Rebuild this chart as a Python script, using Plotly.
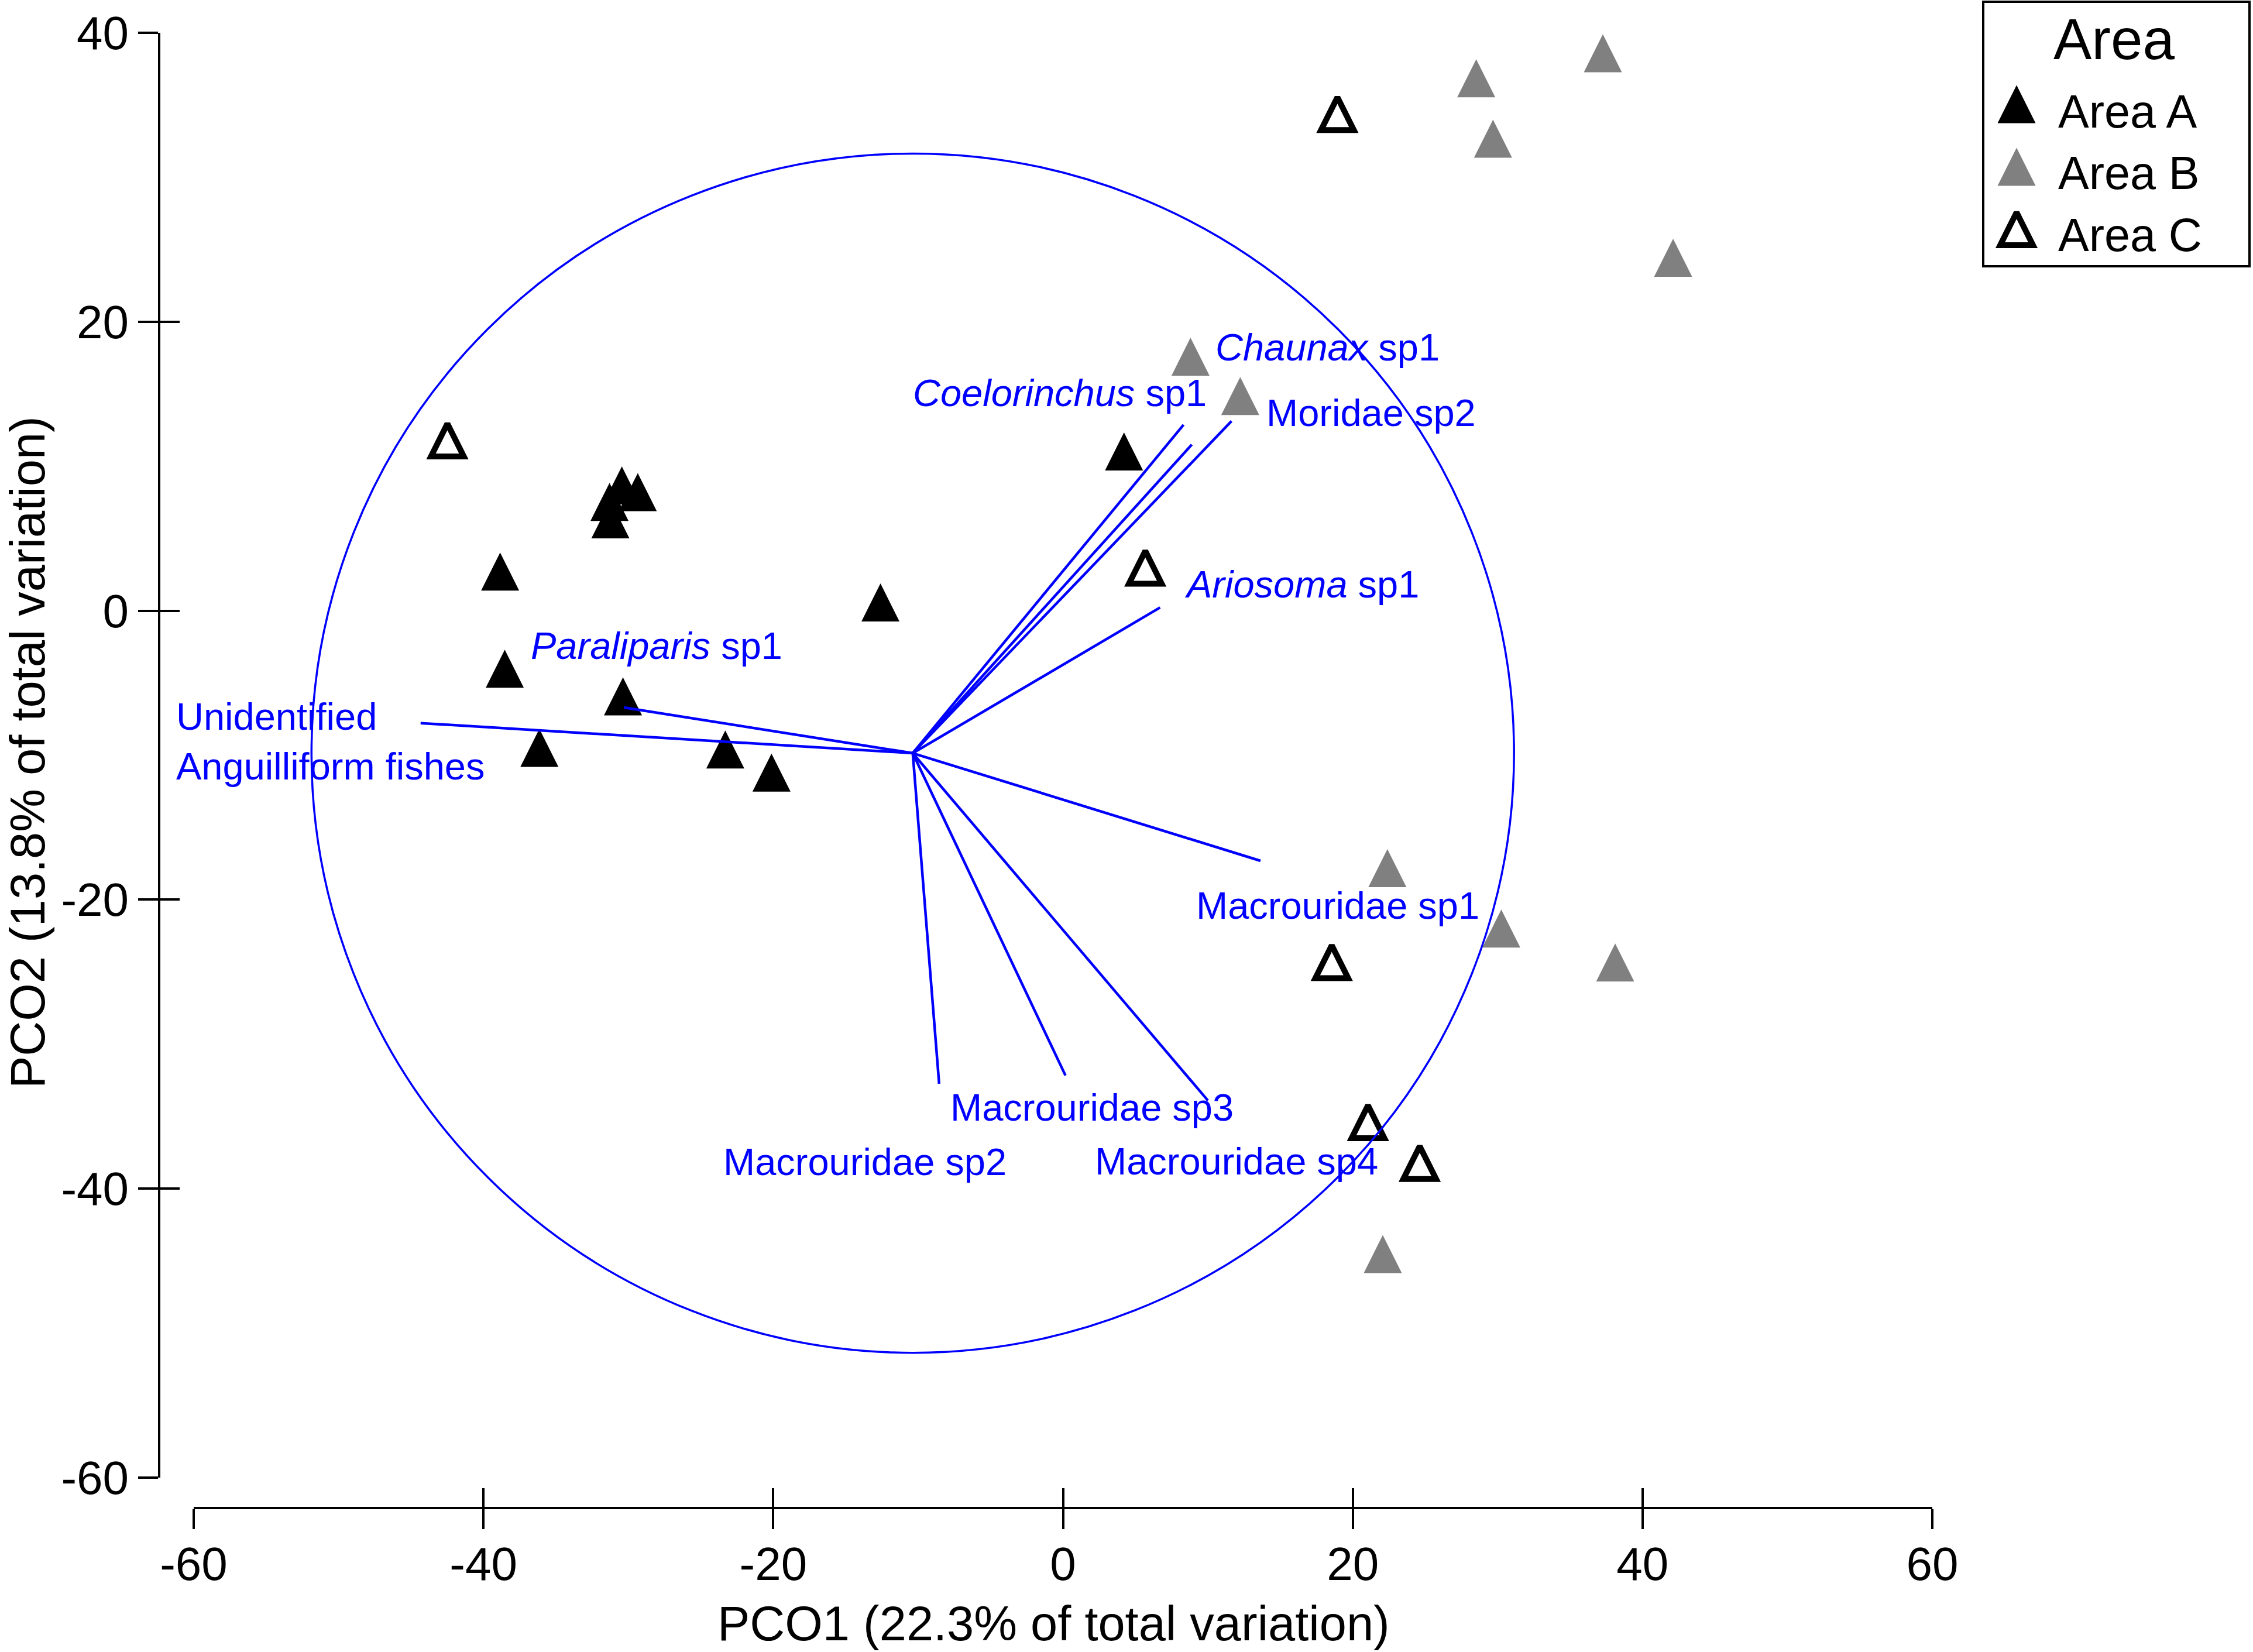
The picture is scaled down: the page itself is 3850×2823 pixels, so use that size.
import plotly.graph_objects as go

# ---------------- data ----------------
area_a_x = [4.21, -30.45, -29.35, -31.30, -31.24, -38.85, -12.60, -38.53, -30.37, -36.14, -23.31, -20.12]
area_a_y = [11.02, 8.67, 8.21, 7.53, 6.32, 2.71, 0.57, -4.02, -5.93, -9.49, -9.61, -11.21]

area_b_x = [28.52, 37.26, 29.68, 42.11, 8.80, 12.23, 22.39, 30.25, 38.11, 22.07]
area_b_y = [36.85, 38.58, 32.67, 24.43, 17.58, 14.86, -17.82, -22.00, -24.35, -44.53]

area_c_x = [18.94, -42.49, 5.68, 18.55, 21.05, 24.62]
area_c_y = [34.40, 11.81, 3.00, -24.30, -35.37, -38.20]

vec_labels = [
    "Unidentified<br>Anguilliform fishes",
    "<i>Paraliparis</i> sp1",
    "<i>Coelorinchus</i> sp1",
    "<i>Chaunax</i> sp1",
    "Moridae sp2",
    "<i>Ariosoma</i> sp1",
    "Macrouridae sp1",
    "Macrouridae sp3",
    "Macrouridae sp2",
    "Macrouridae sp4",
]
vec_x = [-44.34, -30.30, 8.32, 8.89, 11.63, 6.70, 13.63, 0.17, -8.55, 10.00]
vec_y = [-7.78, -6.70, 12.87, 11.50, 13.12, 0.22, -17.31, -32.17, -32.74, -33.90]

origin_x = -10.37
origin_y = -9.86
circle_radius = 41.5

x_ticks = [-60, -40, -20, 0, 20, 40, 60]
y_ticks = [-60, -40, -20, 0, 20, 40]
x_ticktext = [str(v) for v in x_ticks]
y_ticktext = [str(v) for v in y_ticks]

legend_names = ["Area A", "Area B", "Area C"]

# ---------------- styles ----------------
W, H = 3850, 2823
FONT = "Liberation Sans, Arial, sans-serif"
BLUE = "rgb(0,0,255)"
GRAY = "rgb(128,128,128)"

# label placement relative to the vector tips (px): anchor, xshift, yshift
label_style = [
    ("left", -420, -31),
    ("left", -161, 106),
    ("right", 42, 54),
    ("left", 38, 166),
    ("left", 58, 14),
    ("left", 40, 40),
    ("left", -112, -77),
    ("left", -199, -55),
    ("left", -371, -134),
    ("left", -195, -104),
]

FILLED_SIZE = 65
OPEN_SIZE = 56
OPEN_LW = 10

def tri(size, open_=False, color="black"):
    m = dict(symbol="arrow-down-open" if open_ else "arrow-down", angle=180,
             size=size, standoff=size / 2, color=color,
             line=dict(width=OPEN_LW if open_ else 0, color=color))
    return m

fig = go.Figure()

fig.add_trace(go.Scatter(x=area_a_x, y=area_a_y, mode="markers", name="Area A",
                         marker=tri(FILLED_SIZE, False, "black"), cliponaxis=False,
                         showlegend=False))
fig.add_trace(go.Scatter(x=area_b_x, y=area_b_y, mode="markers", name="Area B",
                         marker=tri(FILLED_SIZE, False, GRAY), cliponaxis=False,
                         showlegend=False))
fig.add_trace(go.Scatter(x=area_c_x, y=area_c_y, mode="markers", name="Area C",
                         marker=tri(OPEN_SIZE, True, "black"), cliponaxis=False,
                         showlegend=False))

# vectors
vx, vy = [], []
for ex, ey in zip(vec_x, vec_y):
    vx += [origin_x, ex, None]
    vy += [origin_y, ey, None]
fig.add_trace(go.Scatter(x=vx, y=vy, mode="lines", line=dict(color=BLUE, width=4.5),
                         showlegend=False, hoverinfo="skip", cliponaxis=False))

# dummy trace for the inner-tick overlay axes
fig.add_trace(go.Scatter(x=[None], y=[None], xaxis="x2", yaxis="y2",
                         showlegend=False, hoverinfo="skip"))

# circle
fig.add_shape(type="circle", xref="x", yref="y",
              x0=origin_x - circle_radius, x1=origin_x + circle_radius,
              y0=origin_y - circle_radius, y1=origin_y + circle_radius,
              line=dict(color=BLUE, width=3.5), layer="above")

annotations = []
for text, ex, ey, (anc, xs, ys) in zip(vec_labels, vec_x, vec_y, label_style):
    annotations.append(dict(x=ex, y=ey, xref="x", yref="y", text=text, showarrow=False,
                            xanchor=anc, yanchor="middle", xshift=xs, yshift=ys,
                            align="left", font=dict(family=FONT, size=65, color=BLUE)))

# axis titles
annotations.append(dict(x=1800 / W, y=1 - 2774 / H, xref="paper", yref="paper",
                        text="PCO1 (22.3% of total variation)", showarrow=False,
                        xanchor="center", yanchor="middle",
                        font=dict(family=FONT, size=83, color="black")))
annotations.append(dict(x=47 / W, y=1 - 1286 / H, xref="paper", yref="paper",
                        text="PCO2 (13.8% of total variation)", showarrow=False,
                        textangle=-90, xanchor="center", yanchor="middle",
                        font=dict(family=FONT, size=83, color="black")))

# ---------------- custom legend ----------------
LX0, LX1, LY0, LY1 = 3389, 3844, 3, 455  # box in px
fig.add_shape(type="rect", xref="paper", yref="paper",
              x0=LX0 / W, x1=LX1 / W, y0=1 - LY1 / H, y1=1 - LY0 / H,
              line=dict(color="black", width=4), fillcolor="white", layer="below")
leg_sym_x = 57
leg_sym_y = [175, 282, 388]
leg_txt_y = [188, 293, 399]
leg_markers = [tri(FILLED_SIZE, False, "black"), tri(FILLED_SIZE, False, GRAY),
               tri(OPEN_SIZE, True, "black")]
for i, name in enumerate(legend_names):
    fig.add_trace(go.Scatter(x=[leg_sym_x], y=[leg_sym_y[i]], xaxis="x3", yaxis="y3",
                             mode="markers", marker=leg_markers[i], cliponaxis=False,
                             showlegend=False, hoverinfo="skip"))
    annotations.append(dict(x=126, y=leg_txt_y[i], xref="x3", yref="y3", text=name,
                            showarrow=False, xanchor="left", yanchor="middle",
                            font=dict(family=FONT, size=79, color="black")))
annotations.append(dict(x=224, y=64, xref="x3", yref="y3", text="Area", showarrow=False,
                        xanchor="center", yanchor="middle",
                        font=dict(family=FONT, size=98, color="black")))

XDOM = [331 / W, 3302 / W]
YDOM = [1 - 2525 / H, 1 - 56 / H]
XPOS = 1 - 2577 / H
YPOS = 272 / W

common_x = dict(domain=XDOM, range=[-60, 60], anchor="free", position=XPOS,
                tickvals=x_ticks, ticklen=34, tickwidth=4, tickcolor="black",
                showgrid=False, zeroline=False, fixedrange=True, automargin=False)
common_y = dict(domain=YDOM, range=[-60, 40], anchor="free", position=YPOS,
                tickvals=y_ticks, ticklen=34, tickwidth=4, tickcolor="black",
                showgrid=False, zeroline=False, fixedrange=True, automargin=False)

fig.update_layout(
    width=W, height=H,
    margin=dict(l=0, r=0, t=0, b=0, pad=0, autoexpand=False),
    paper_bgcolor="white", plot_bgcolor="rgba(0,0,0,0)",
    showlegend=False,
    font=dict(family=FONT, color="black"),
    xaxis=dict(**common_x, ticks="outside", showline=True, linewidth=4, linecolor="black",
               ticktext=x_ticktext, ticklabelstandoff=-9,
               tickfont=dict(family=FONT, size=80, color="black")),
    yaxis=dict(**common_y, ticks="outside", showline=True, linewidth=4, linecolor="black",
               ticktext=y_ticktext, tickfont=dict(family=FONT, size=80, color="black")),
    xaxis2=dict(**common_x, overlaying="x", ticks="inside", showline=False,
                showticklabels=False),
    yaxis2=dict(**common_y, overlaying="y", ticks="inside", showline=False,
                showticklabels=False),
    xaxis3=dict(domain=[LX0 / W, LX1 / W], range=[0, LX1 - LX0], anchor="y3",
                visible=False, fixedrange=True, automargin=False),
    yaxis3=dict(domain=[1 - LY1 / H, 1 - LY0 / H], range=[LY1 - LY0, 0], anchor="x3",
                visible=False, fixedrange=True, automargin=False),
    annotations=annotations,
)

# remove the default page margin so the figure sits at the window's top-left corner
fig.write_html("out.html",
               config={"displayModeBar": False},
               post_script="document.body.style.margin='0px';"
                           "document.body.style.overflow='hidden';")
